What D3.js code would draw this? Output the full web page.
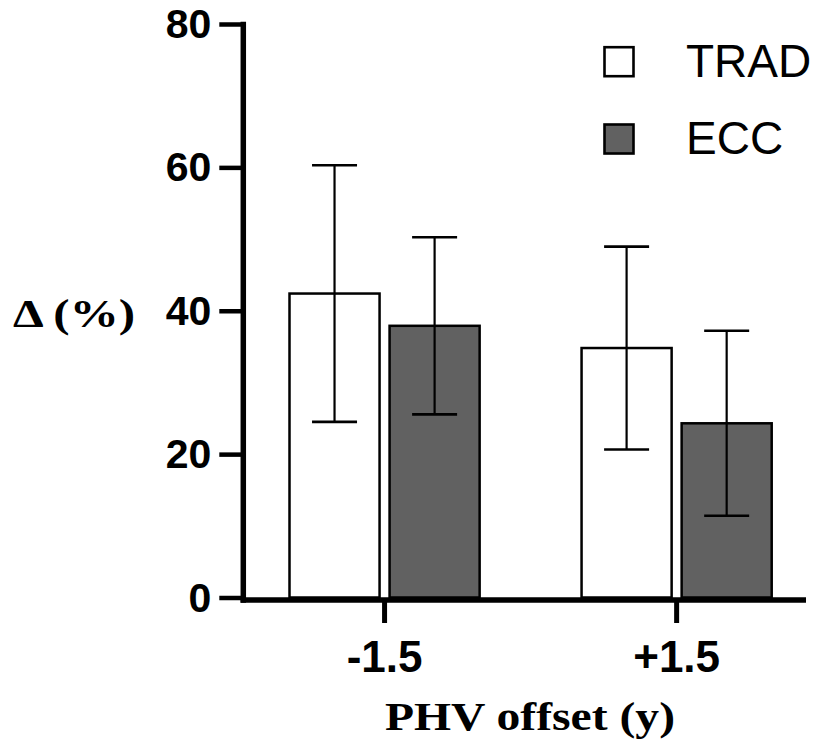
<!DOCTYPE html>
<html>
<head>
<meta charset="utf-8">
<script src="https://cdn.jsdelivr.net/npm/d3@7"></script>
<style>
  html, body { margin: 0; padding: 0; background: #fff; }
  svg { display: block; }
</style>
</head>
<body>
<svg id="chart" width="819" height="748"></svg>
<script>
// ---- data ----
const categories = ["-1.5", "+1.5"];
const seriesNames = ["TRAD", "ECC"];
const tradMean = [42.4, 34.8];
const tradSD   = [17.9, 14.15];
const eccMean  = [37.9, 24.3];
const eccSD    = [12.35, 12.9];
const yTicks   = [0, 20, 40, 60, 80];
const seriesFill = { TRAD: "#ffffff", ECC: "#616161" };

const rows = [];
categories.forEach((c, i) => {
  rows.push({ cat: c, series: "TRAD", mean: tradMean[i], sd: tradSD[i] });
  rows.push({ cat: c, series: "ECC",  mean: eccMean[i],  sd: eccSD[i] });
});

const svg = d3.select("#chart");
const sans = "'Liberation Sans', Arial, sans-serif";
const serif = "'Liberation Serif', 'Times New Roman', serif";

// ---- scales ----
const y = d3.scaleLinear().domain([0, 80]).range([597.5, 24]);
const x0 = d3.scaleBand().domain(categories).range([289.5, 771.7])
  .paddingInner(0.349).paddingOuter(0);
const x1 = d3.scaleBand().domain(seriesNames).range([0, x0.bandwidth()])
  .paddingInner(0.1).paddingOuter(0);

const axisX = 243.3;
const xAxisY = 600;

// ---- bars ----
const g = svg.append("g");
g.selectAll("rect.bar").data(rows).join("rect")
  .attr("class", "bar")
  .attr("x", d => x0(d.cat) + x1(d.series))
  .attr("y", d => y(d.mean))
  .attr("width", x1.bandwidth())
  .attr("height", d => y(0) - y(d.mean))
  .attr("fill", d => seriesFill[d.series])
  .attr("stroke", "#000")
  .attr("stroke-width", 2.5);

// ---- error bars ----
const capW = 45;
const eb = g.selectAll("g.err").data(rows).join("g").attr("class", "err");
eb.append("line")
  .attr("x1", d => x0(d.cat) + x1(d.series) + x1.bandwidth() / 2)
  .attr("x2", d => x0(d.cat) + x1(d.series) + x1.bandwidth() / 2)
  .attr("y1", d => y(d.mean + d.sd))
  .attr("y2", d => y(d.mean - d.sd))
  .attr("stroke", "#000").attr("stroke-width", 2.2);
["hi", "lo"].forEach(k => {
  eb.append("line")
    .attr("x1", d => x0(d.cat) + x1(d.series) + x1.bandwidth() / 2 - capW / 2)
    .attr("x2", d => x0(d.cat) + x1(d.series) + x1.bandwidth() / 2 + capW / 2)
    .attr("y1", d => y(k === "hi" ? d.mean + d.sd : d.mean - d.sd))
    .attr("y2", d => y(k === "hi" ? d.mean + d.sd : d.mean - d.sd))
    .attr("stroke", "#000").attr("stroke-width", 2.6);
});

// ---- y axis ----
const yAxisG = svg.append("g").attr("transform", `translate(${axisX},0)`)
  .call(d3.axisLeft(y).tickValues(yTicks).tickSize(24).tickPadding(8).tickFormat(d3.format("d")));
yAxisG.select(".domain").remove();
yAxisG.selectAll(".tick line").attr("stroke", "#000").attr("stroke-width", 4.5);
yAxisG.selectAll(".tick text")
  .attr("font-family", sans).attr("font-weight", "bold").attr("font-size", 41)
  .attr("fill", "#000").attr("dy", "0.33em");
svg.append("line")
  .attr("x1", axisX).attr("x2", axisX)
  .attr("y1", y(80) - 2.2).attr("y2", xAxisY + 2.7)
  .attr("stroke", "#000").attr("stroke-width", 5.5);

// ---- x axis ----
const xAxisG = svg.append("g").attr("transform", `translate(0,${xAxisY})`)
  .call(d3.axisBottom(x0).tickSize(23).tickPadding(0));
xAxisG.select(".domain").remove();
xAxisG.selectAll(".tick line").attr("stroke", "#000").attr("stroke-width", 5);
xAxisG.selectAll(".tick text")
  .attr("font-family", sans).attr("font-weight", "bold").attr("font-size", 44)
  .attr("fill", "#000").attr("y", 71.7).attr("dy", 0);
svg.append("line")
  .attr("x1", axisX - 2.7).attr("x2", 806)
  .attr("y1", xAxisY).attr("y2", xAxisY)
  .attr("stroke", "#000").attr("stroke-width", 5.5);

// ---- axis titles ----
svg.append("text")
  .attr("x", 13).attr("y", 326.7)
  .attr("font-family", serif).attr("font-weight", "bold").attr("font-size", 41)
  .attr("textLength", 122).attr("lengthAdjust", "spacingAndGlyphs")
  .attr("fill", "#000")
  .text("Δ (%)");
svg.append("text")
  .attr("x", 385).attr("y", 730)
  .attr("font-family", serif).attr("font-weight", "bold").attr("font-size", 40)
  .attr("textLength", 290).attr("lengthAdjust", "spacingAndGlyphs")
  .attr("fill", "#000")
  .text("PHV offset (y)");

// ---- legend ----
const legendY = d3.scalePoint().domain(seriesNames).range([61.7, 139]);
const leg = svg.selectAll("g.legend").data(seriesNames).join("g").attr("class", "legend");
leg.append("rect")
  .attr("x", 604.5).attr("y", d => legendY(d) - 14.5)
  .attr("width", 29).attr("height", 29)
  .attr("fill", d => seriesFill[d]).attr("stroke", "#000").attr("stroke-width", 2.6);
leg.append("text")
  .attr("x", 686).attr("y", d => legendY(d) + 15.2)
  .attr("font-family", sans).attr("font-size", 46).attr("fill", "#000")
  .text(d => d);
</script>
</body>
</html>
